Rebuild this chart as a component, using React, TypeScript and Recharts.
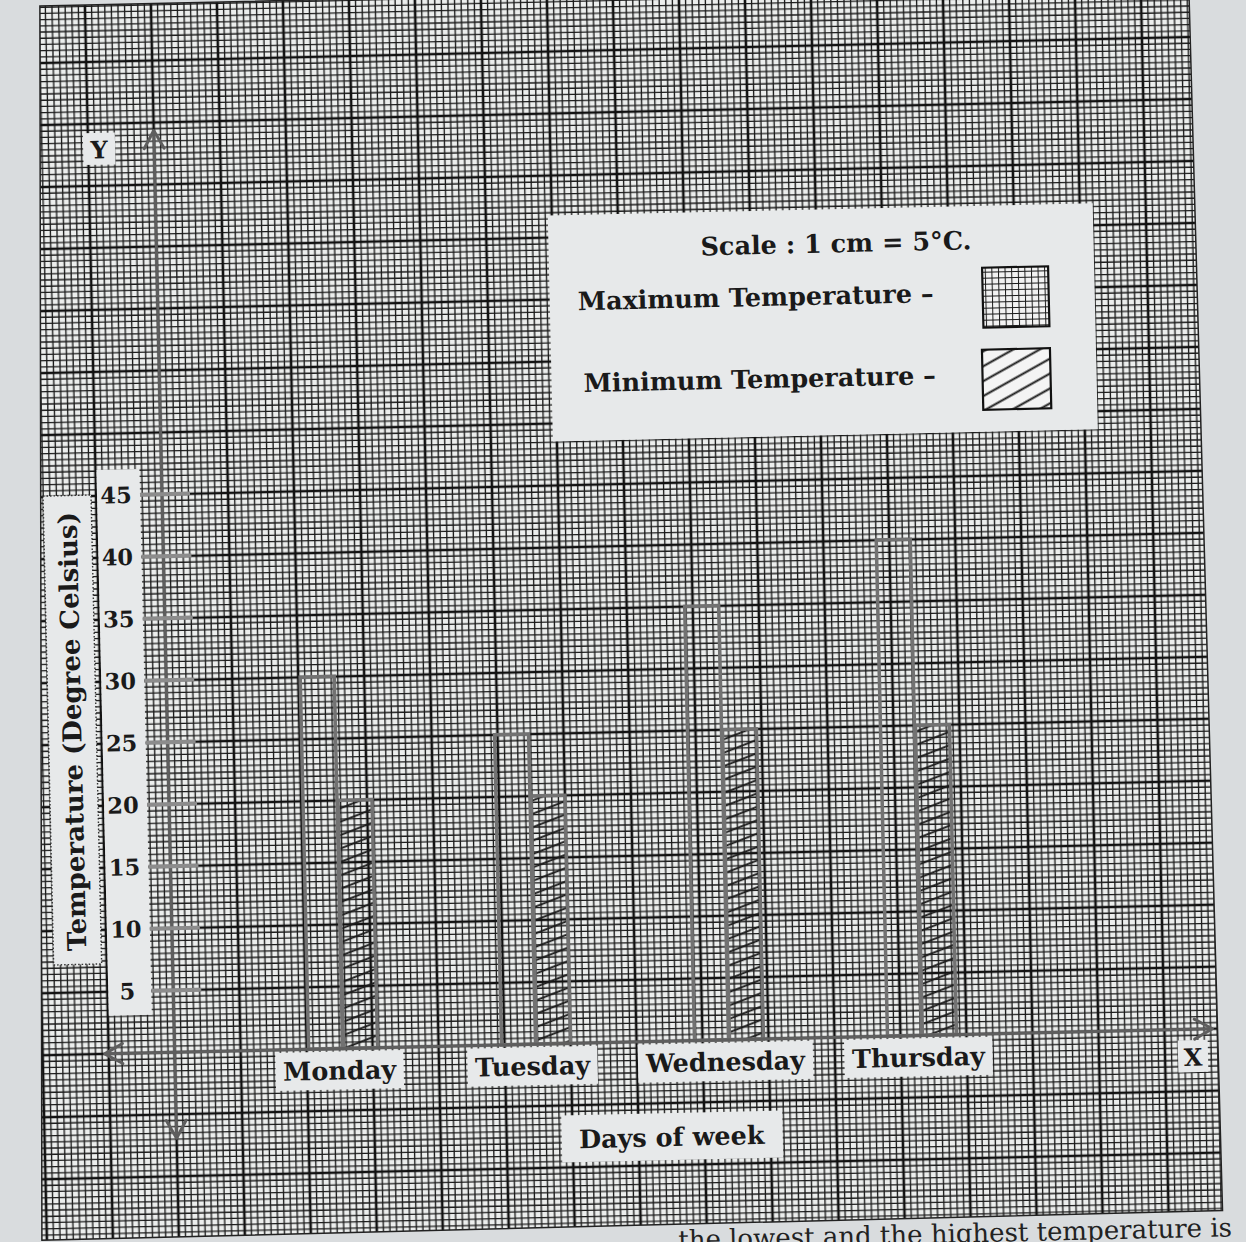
import React, { useLayoutEffect, useRef, useState } from 'react';
import { BarChart, Bar, XAxis, YAxis, Legend } from 'recharts';

// ---- data ----
const days = ['Monday', 'Tuesday', 'Wednesday', 'Thursday'];
const maxTemps = [30, 25, 35, 40];
const minTemps = [20, 20, 25, 25];
const yTicks = [5, 10, 15, 20, 25, 30, 35, 40, 45];
const seriesNames = ['Maximum Temperature', 'Minimum Temperature'];
const scaleText = 'Scale :  1 cm = 5°C.';
const yAxisTitle = 'Temperature (Degree Celsius)';
const xAxisTitle = 'Days of week';
const footText = 'the lowest and the highest temperature is';

const data = days.map((d, i) => ({ day: d, max: maxTemps[i], min: minTemps[i] }));

// ---- layout / style constants ----
const W = 1246;
const H = 1242;
const AXIS_X = 165;
const AXIS_Y = 1042;
const PLOT_TOP = 124;
const PLOT_RIGHT = 1203;
const FONT = '"DejaVu Serif", serif';
const BG = '#d9dcde';
const PAPER = '#eceeed';
const BOX = '#e7e9ea';
const AXIS_COLOR = '#5e5e5e';
const BAR_STROKE = '#727272';
const MAJ_W = 66;
const MAJ_H = 62;

function GridTile() {
  const lines = [];
  for (let k = 1; k < 10; k++) {
    const x = (MAJ_W / 10) * k;
    const y = (MAJ_H / 10) * k;
    lines.push(<line key={'v' + k} x1={x} y1={0} x2={x} y2={MAJ_H} stroke="#1a1a1a" strokeWidth={1.35} />);
    lines.push(<line key={'h' + k} x1={0} y1={y} x2={MAJ_W} y2={y} stroke="#1a1a1a" strokeWidth={1.35} />);
  }
  return (
    <g>
      <rect x={0} y={0} width={MAJ_W} height={MAJ_H} fill={PAPER} />
      {lines}
      <line x1={0} y1={0} x2={0} y2={MAJ_H} stroke="#111" strokeWidth={2.6} />
      <line x1={MAJ_W} y1={0} x2={MAJ_W} y2={MAJ_H} stroke="#111" strokeWidth={2.6} />
      <line x1={0} y1={0} x2={MAJ_W} y2={0} stroke="#111" strokeWidth={2.6} />
      <line x1={0} y1={MAJ_H} x2={MAJ_W} y2={MAJ_H} stroke="#111" strokeWidth={2.6} />
    </g>
  );
}

function PaperLayer() {
  return (
    <svg width={W} height={H + 40} style={{ position: 'absolute', left: 0, top: 0, overflow: 'visible' }}>
      <defs>
        <pattern id="paperGrid" patternUnits="userSpaceOnUse" x={AXIS_X} y={AXIS_Y} width={MAJ_W} height={MAJ_H}>
          <GridTile />
        </pattern>
        <pattern id="barHatch" patternUnits="userSpaceOnUse" width={24} height={12.5} patternTransform="rotate(-20)">
          <line x1={-2} y1={6} x2={26} y2={6} stroke="#1a1a1a" strokeWidth={1.9} />
        </pattern>
        <pattern id="legendGrid" patternUnits="userSpaceOnUse" width={6.6} height={6} x={0} y={0}>
          <rect width={6.6} height={6} fill="#f2f2f2" />
          <line x1={0} y1={0.5} x2={6.6} y2={0.5} stroke="#1a1a1a" strokeWidth={1} />
          <line x1={0.5} y1={0} x2={0.5} y2={6} stroke="#1a1a1a" strokeWidth={1} />
        </pattern>
        <pattern id="legendHatch" patternUnits="userSpaceOnUse" width={30} height={13} patternTransform="rotate(-28)">
          <rect width={30} height={13} fill="#f4f4f4" />
          <line x1={-2} y1={6.5} x2={32} y2={6.5} stroke="#1a1a1a" strokeWidth={1.8} />
        </pattern>
      </defs>
      <text x={1218} y={1250} textAnchor="end" fontFamily={FONT} fontSize={26} fill="#222">
        {footText}
      </text>
      <polygon points="54,-7 1203,-7 1209,1224 28,1227" fill="url(#paperGrid)" stroke="#222" strokeWidth={1.5} />
      {/* white boxes behind labels */}
      <rect x={100} y={458} width={43} height={546} fill={BOX} />
      <rect x={46} y={483} width={48} height={469} fill={BOX} stroke="#333" strokeWidth={1.4} strokeDasharray="1.5 2" />
      <rect x={94} y={121} width={32} height={32} fill={BOX} />
      <rect x={1168} y={1053} width={30} height={32} fill={BOX} />
      <rect x={550} y={1114} width={221} height={47} fill={BOX} />
    </svg>
  );
}

function Overlay() {
  const st = { stroke: AXIS_COLOR, strokeWidth: 3, fill: 'none', strokeLinecap: 'round' as const, strokeLinejoin: 'round' as const };
  return (
    <svg width={W} height={H} style={{ position: 'absolute', left: 0, top: 0, pointerEvents: 'none' }}>
      <line x1={AXIS_X} y1={AXIS_Y} x2={AXIS_X} y2={1127} {...st} />
      <line x1={AXIS_X} y1={PLOT_TOP} x2={AXIS_X} y2={121} {...st} />
      <polyline points={`${AXIS_X - 10},138 ${AXIS_X},120 ${AXIS_X + 10},138`} {...st} />
      <polyline points={`${AXIS_X - 10},1110 ${AXIS_X},1128 ${AXIS_X + 10},1110`} {...st} />
      <line x1={96} y1={AXIS_Y} x2={AXIS_X} y2={AXIS_Y} {...st} />
      <polyline points={`113,${AXIS_Y - 10} 95,${AXIS_Y} 113,${AXIS_Y + 10}`} {...st} />
      <polyline points={`${PLOT_RIGHT - 18},${AXIS_Y - 10} ${PLOT_RIGHT},${AXIS_Y} ${PLOT_RIGHT - 18},${AXIS_Y + 10}`} {...st} />
      <text x={110} y={138} textAnchor="middle" dominantBaseline="central" fontFamily={FONT} fontWeight="bold" fontSize={24} fill="#1a1a1a">Y</text>
      <text x={1183} y={1070} textAnchor="middle" dominantBaseline="central" fontFamily={FONT} fontWeight="bold" fontSize={24} fill="#1a1a1a">X</text>
    </svg>
  );
}

function XTick(props: any) {
  const { x, y, payload } = props;
  const ref = useRef<SVGTextElement>(null);
  const [w, setW] = useState(120);
  useLayoutEffect(() => {
    if (ref.current) setW(ref.current.getBBox().width);
  }, [payload.value]);
  const cx = x - 4;
  const cy = y + 22;
  return (
    <g>
      <rect x={cx - w / 2 - 7} y={cy - 19} width={w + 14} height={38} fill={BOX} />
      <text ref={ref} x={cx} y={cy} textAnchor="middle" dominantBaseline="central" fontFamily={FONT} fontWeight="bold" fontSize={25.5} fill="#1a1a1a">
        {payload.value}
      </text>
    </g>
  );
}

function YTick(props: any) {
  const { y, payload } = props;
  return (
    <g>
      <line x1={AXIS_X - 22} y1={y} x2={AXIS_X + 28} y2={y} stroke="#8c8c8c" strokeWidth={4} />
      <text x={119} y={y} textAnchor="middle" dominantBaseline="central" fontFamily={FONT} fontWeight="bold" fontSize={22.5} fill="#1a1a1a">
        {payload.value}
      </text>
    </g>
  );
}

function LegendBox(props: any) {
  const payload = props.payload || [];
  const rowStyle = (top: number, left: number): React.CSSProperties => ({
    position: 'absolute', left, top, transform: 'translateY(-50%)', whiteSpace: 'nowrap',
    fontFamily: FONT, fontWeight: 'bold', fontSize: 25.5, color: '#1a1a1a', lineHeight: 1,
  });
  return (
    <div style={{ position: 'relative', width: 545, height: 226, background: BOX }}>
      <div style={{ ...rowStyle(35, 0), left: 0, width: 545, textAlign: 'center', paddingLeft: 30, boxSizing: 'border-box' }}>{scaleText}</div>
      {payload.map((p: any, i: number) => (
        <div key={i} style={rowStyle(87 + i * 82, 28 + i * 4)}>{p.value} –</div>
      ))}
      <svg width={545} height={226} style={{ position: 'absolute', left: 0, top: 0 }}>
        <rect x={433} y={62} width={66} height={60} fill="url(#legendGrid)" stroke="#111" strokeWidth={2.2} />
        <rect x={431} y={144} width={68} height={60} fill="url(#legendHatch)" stroke="#111" strokeWidth={2.2} />
      </svg>
    </div>
  );
}

export default function App() {
  return (
    <div style={{ position: 'absolute', left: 0, top: 0, width: W, height: H, background: BG, overflow: 'hidden' }}>
      <div style={{ position: 'absolute', left: 0, top: 0, width: W, height: H, transform: 'rotate(-1.3deg)', transformOrigin: '623px 621px' }}>
        <PaperLayer />
        <div style={{ position: 'absolute', left: 0, top: 0 }}>
          <BarChart
            width={W}
            height={H}
            data={data}
            margin={{ top: PLOT_TOP, right: W - PLOT_RIGHT, bottom: H - AXIS_Y - 60, left: AXIS_X - 60 }}
            barGap={1}
          >
            <XAxis
              dataKey="day"
              height={60}
              padding={{ left: 72, right: 194 }}
              axisLine={{ stroke: AXIS_COLOR, strokeWidth: 3 }}
              tickLine={false}
              tickSize={0}
              tickMargin={0}
              interval={0}
              tick={(p: any) => <XTick {...p} />}
              label={{
                content: () => (
                  <text x={660} y={1138} textAnchor="middle" dominantBaseline="central" fontFamily={FONT} fontWeight="bold" fontSize={25.5} fill="#1a1a1a">
                    {xAxisTitle}
                  </text>
                ),
              }}
            />
            <YAxis
              type="number"
              domain={[0, 74]}
              ticks={yTicks}
              width={60}
              interval={0}
              axisLine={{ stroke: AXIS_COLOR, strokeWidth: 3 }}
              tickLine={false}
              tickSize={0}
              tick={(p: any) => <YTick {...p} />}
              label={{
                content: () => (
                  <text x={70} y={719} transform="rotate(-90 70 719)" textAnchor="middle" dominantBaseline="central" fontFamily={FONT} fontWeight="bold" fontSize={26} fill="#1a1a1a">
                    {yAxisTitle}
                  </text>
                ),
              }}
            />
            <Legend
              layout="horizontal"
              verticalAlign="middle"
              align="center"
              wrapperStyle={{ position: 'absolute', left: 557, top: 214, width: 545, height: 226 }}
              content={(p: any) => <LegendBox {...p} />}
            />
            <Bar dataKey="max" name={seriesNames[0]} barSize={34} fill="none" stroke={BAR_STROKE} strokeWidth={3.5} isAnimationActive={false} legendType="rect" />
            <Bar dataKey="min" name={seriesNames[1]} barSize={34} fill="url(#barHatch)" stroke={BAR_STROKE} strokeWidth={3.5} isAnimationActive={false} legendType="rect" />
          </BarChart>
        </div>
        <Overlay />
      </div>
    </div>
  );
}
